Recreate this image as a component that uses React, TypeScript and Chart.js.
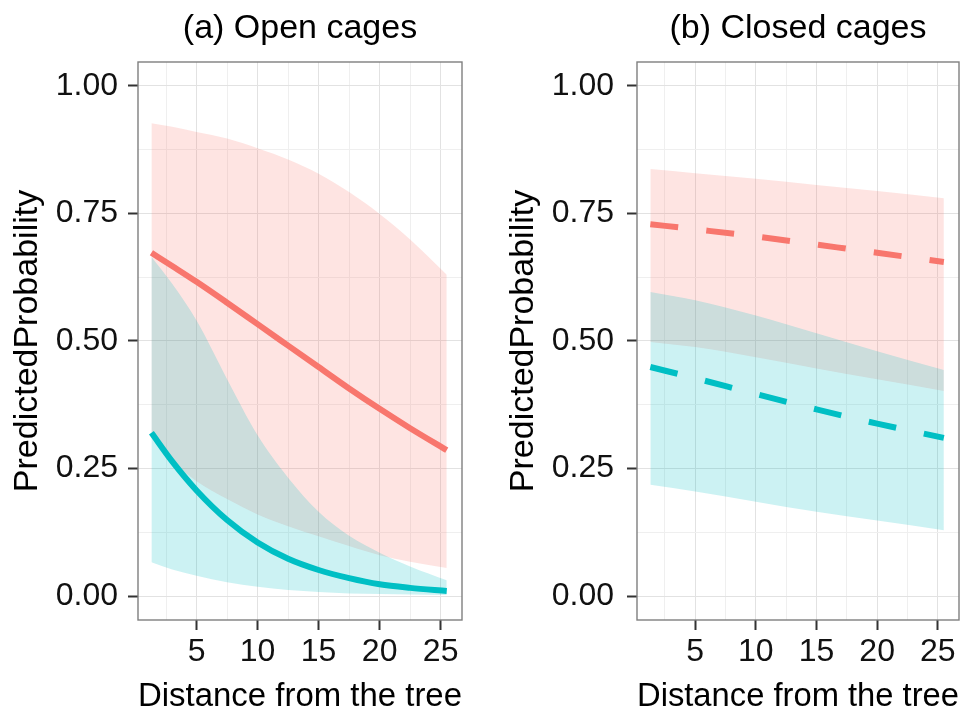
import { useEffect, useRef } from 'react';
import { Chart, registerables } from 'chart.js';

Chart.register(...registerables);

const FONT = '"Liberation Sans", Arial, Helvetica, sans-serif';
const RED = '#F8766D';
const CYAN = '#00BFC4';
const RED_BAND = 'rgba(248,118,109,0.2)';
const CYAN_BAND = 'rgba(0,191,196,0.2)';

// Tick labels
const xTicks = [5, 10, 15, 20, 25];
const xMinor = [2.5, 7.5, 12.5, 17.5, 22.5];
const yTicks = [0, 0.25, 0.5, 0.75, 1];
const yMinor = [0.125, 0.375, 0.625, 0.875];

// (a) Open cages
const distOpen = [1.3, 3, 5, 7.5, 10, 12.5, 15, 17.5, 20, 22.5, 25.5];
const openRedFit = [0.673, 0.647, 0.616, 0.575, 0.533, 0.491, 0.449, 0.407, 0.367, 0.329, 0.286];
const openRedUpper = [0.927, 0.92, 0.91, 0.897, 0.878, 0.856, 0.828, 0.792, 0.749, 0.699, 0.63];
const openRedLower = [0.315, 0.265, 0.225, 0.19, 0.16, 0.137, 0.117, 0.098, 0.08, 0.067, 0.055];
const openCyanFit = [0.32, 0.264, 0.207, 0.149, 0.105, 0.073, 0.051, 0.035, 0.023, 0.016, 0.01];
const openCyanUpper = [0.665, 0.612, 0.54, 0.425, 0.315, 0.232, 0.165, 0.118, 0.085, 0.058, 0.031];
const openCyanLower = [0.066, 0.052, 0.04, 0.027, 0.018, 0.012, 0.008, 0.005, 0.004, 0.003, 0.002];

// (b) Closed cages
const distClosed = [1.3, 5, 10, 15, 20, 25.5];
const closedRedFit = [0.729, 0.719, 0.705, 0.689, 0.673, 0.655];
const closedRedUpper = [0.837, 0.829, 0.818, 0.806, 0.794, 0.78];
const closedRedLower = [0.498, 0.488, 0.468, 0.446, 0.425, 0.402];
const closedCyanFit = [0.449, 0.427, 0.396, 0.366, 0.338, 0.31];
const closedCyanUpper = [0.596, 0.58, 0.55, 0.515, 0.48, 0.443];
const closedCyanLower = [0.218, 0.205, 0.185, 0.165, 0.148, 0.129];

const pts = (xs: number[], ys: number[]) => xs.map((x, i) => ({ x, y: ys[i] }));

const panelPlugin = {
  id: 'panelDecor',
  afterDraw(chart: any, _args: any, opts: any) {
    const { ctx, chartArea } = chart;
    const { left, top, right, bottom } = chartArea;
    ctx.save();
    ctx.strokeStyle = '#7f7f7f';
    ctx.lineWidth = 1.4;
    ctx.strokeRect(left, top, right - left, bottom - top);
    ctx.fillStyle = '#000';
    ctx.font = `34px ${FONT}`;
    ctx.textAlign = 'center';
    ctx.textBaseline = 'middle';
    ctx.fillText(opts.text, (left + right) / 2, opts.y);
    ctx.restore();
  },
};

interface PanelSpec {
  title: string;
  dist: number[];
  redFit: number[];
  redUpper: number[];
  redLower: number[];
  cyanFit: number[];
  cyanUpper: number[];
  cyanLower: number[];
  dash: number[];
  yWidth: number;
  yTitlePad: number;
  yTickPad: number;
  rightPad: number;
}

function buildConfig(p: PanelSpec): any {
  const lineBase = {
    pointRadius: 0,
    pointHoverRadius: 0,
    tension: 0.4,
    cubicInterpolationMode: 'monotone',
  };
  const isMajorX = (v: number) => xTicks.includes(v);
  const isMajorY = (v: number) => yTicks.includes(v);
  return {
    type: 'line',
    data: {
      datasets: [
        {
          ...lineBase,
          label: 'cyan fit',
          data: pts(p.dist, p.cyanFit),
          borderColor: CYAN,
          borderWidth: 6,
          borderDash: p.dash,
          borderCapStyle: 'butt',
          fill: false,
        },
        {
          ...lineBase,
          label: 'red fit',
          data: pts(p.dist, p.redFit),
          borderColor: RED,
          borderWidth: 6,
          borderDash: p.dash,
          borderCapStyle: 'butt',
          fill: false,
        },
        {
          ...lineBase,
          label: 'cyan upper',
          data: pts(p.dist, p.cyanUpper),
          borderColor: 'rgba(0,0,0,0)',
          borderWidth: 0,
          backgroundColor: CYAN_BAND,
          fill: 3,
        },
        {
          ...lineBase,
          label: 'cyan lower',
          data: pts(p.dist, p.cyanLower),
          borderColor: 'rgba(0,0,0,0)',
          borderWidth: 0,
          fill: false,
        },
        {
          ...lineBase,
          label: 'red upper',
          data: pts(p.dist, p.redUpper),
          borderColor: 'rgba(0,0,0,0)',
          borderWidth: 0,
          backgroundColor: RED_BAND,
          fill: 5,
        },
        {
          ...lineBase,
          label: 'red lower',
          data: pts(p.dist, p.redLower),
          borderColor: 'rgba(0,0,0,0)',
          borderWidth: 0,
          fill: false,
        },
      ],
    },
    options: {
      animation: false,
      responsive: false,
      devicePixelRatio: 1,
      events: [],
      layout: { padding: { top: 62, right: p.rightPad, bottom: 0, left: 0 } },
      plugins: {
        legend: { display: false },
        tooltip: { enabled: false },
        title: { display: false },
        panelDecor: { text: p.title, y: 29 },
      },
      scales: {
        x: {
          type: 'linear',
          min: 0.2,
          max: 26.75,
          afterBuildTicks: (axis: any) => {
            axis.ticks = [...xMinor, ...xTicks].sort((a, b) => a - b).map((v) => ({ value: v }));
          },
          afterFit: (axis: any) => {
            axis.height = 94;
          },
          ticks: {
            autoSkip: false,
            maxRotation: 0,
            padding: 6,
            color: '#111',
            font: { family: FONT, size: 32, lineHeight: 1 },
            callback: (v: number) => (isMajorX(v) ? String(v) : ''),
          },
          grid: {
            color: (c: any) => (isMajorX(c.tick?.value) ? '#e2e2e2' : '#efefef'),
            lineWidth: 1,
            tickLength: 10,
            tickWidth: 2,
            tickColor: (c: any) => (isMajorX(c.tick?.value) ? '#333' : 'rgba(0,0,0,0)'),
          },
          border: { display: false },
          title: {
            display: true,
            text: 'Distance from the tree',
            color: '#000',
            font: { family: FONT, size: 34, lineHeight: 1 },
            padding: { top: 0, bottom: 0 },
          },
        },
        y: {
          type: 'linear',
          min: -0.047,
          max: 1.047,
          afterBuildTicks: (axis: any) => {
            axis.ticks = [...yMinor, ...yTicks].sort((a, b) => a - b).map((v) => ({ value: v }));
          },
          afterFit: (axis: any) => {
            axis.width = p.yWidth;
          },
          ticks: {
            autoSkip: false,
            padding: p.yTickPad,
            color: '#111',
            font: { family: FONT, size: 32, lineHeight: 1 },
            callback: (v: number) => (isMajorY(v) ? v.toFixed(2) : ''),
          },
          grid: {
            color: (c: any) => (isMajorY(c.tick?.value) ? '#e2e2e2' : '#efefef'),
            lineWidth: 1,
            tickLength: 10,
            tickWidth: 2,
            tickColor: (c: any) => (isMajorY(c.tick?.value) ? '#333' : 'rgba(0,0,0,0)'),
          },
          border: { display: false },
          title: {
            display: true,
            text: 'PredictedProbability',
            color: '#000',
            font: { family: FONT, size: 34, lineHeight: 1 },
            padding: { top: p.yTitlePad, bottom: 0 },
          },
        },
      },
    },
    plugins: [panelPlugin],
  };
}

export default function App() {
  const leftRef = useRef<HTMLCanvasElement>(null);
  const rightRef = useRef<HTMLCanvasElement>(null);

  useEffect(() => {
    const a = new Chart(
      leftRef.current as HTMLCanvasElement,
      buildConfig({
        title: '(a) Open cages',
        dist: distOpen,
        redFit: openRedFit,
        redUpper: openRedUpper,
        redLower: openRedLower,
        cyanFit: openCyanFit,
        cyanUpper: openCyanUpper,
        cyanLower: openCyanLower,
        dash: [],
        yWidth: 138,
        yTitlePad: 11,
        yTickPad: 10,
        rightPad: 24,
      })
    );
    const b = new Chart(
      rightRef.current as HTMLCanvasElement,
      buildConfig({
        title: '(b) Closed cages',
        dist: distClosed,
        redFit: closedRedFit,
        redUpper: closedRedUpper,
        redLower: closedRedLower,
        cyanFit: closedCyanFit,
        cyanUpper: closedCyanUpper,
        cyanLower: closedCyanLower,
        dash: [28, 28.3],
        yWidth: 151,
        yTitlePad: 21,
        yTickPad: 13,
        rightPad: 13,
      })
    );
    return () => {
      a.destroy();
      b.destroy();
    };
  }, []);

  return (
    <div style={{ position: 'absolute', left: 0, top: 0, width: 972, height: 714, background: '#fff' }}>
      <canvas ref={leftRef} width={486} height={714} style={{ position: 'absolute', left: 0, top: 0 }} />
      <canvas ref={rightRef} width={486} height={714} style={{ position: 'absolute', left: 486, top: 0 }} />
    </div>
  );
}
